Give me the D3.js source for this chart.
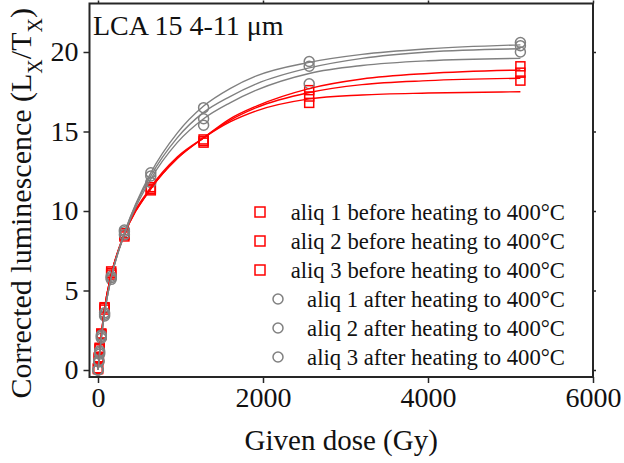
<!DOCTYPE html>
<html>
<head>
<meta charset="utf-8">
<script src="https://cdn.jsdelivr.net/npm/d3@7"></script>
<style>
  html, body { margin: 0; padding: 0; background: #fff; }
  svg { display: block; font-family: "Liberation Serif", "Times New Roman", serif; }
</style>
</head>
<body>
<svg id="chart" width="624" height="463"></svg>
<script>
// Regenerative doses (Gy)
const doses = [0, 10, 20, 40, 80, 160, 320, 640, 1280, 2560, 5120];

// Corrected luminescence Lx/Tx, before heating to 400 °C
const before1 = [0.1, 0.8, 1.4, 2.3, 3.9, 6.1, 8.5, 11.3, 14.4, 17.6, 19.1];
const before2 = [0.05, 0.7, 1.3, 2.2, 3.8, 6.0, 8.6, 11.4, 14.5, 17.2, 18.7];
const before3 = [0.1, 0.75, 1.35, 2.25, 3.95, 6.2, 8.4, 11.5, 14.3, 16.8, 18.2];

// Corrected luminescence Lx/Tx, after heating to 400 °C
const after1 = [0, 0.6, 1.2, 2.1, 3.6, 5.8, 8.8, 12.4, 16.5, 19.4, 20.6];
const after2 = [0, 0.55, 1.1, 2.2, 3.5, 5.9, 8.7, 12.2, 15.8, 19.1, 20.4];
const after3 = [0, 0.5, 1.0, 2.0, 3.4, 5.7, 8.5, 11.8, 15.4, 18.0, 20.0];

// Dose-response fits, sampled at these doses
const fitDoses = [0, 20, 40, 80, 160, 320, 640, 960, 1280, 1600, 1920, 2560, 3200, 4000, 5120];
const fitBefore1 = [0.1, 1.2, 2.2, 3.9, 6.0, 8.5, 11.4, 13.3, 14.6, 15.8, 16.6, 17.7, 18.3, 18.65, 18.87];
const fitBefore2 = [0.1, 1.2, 2.2, 3.9, 6.0, 8.5, 11.4, 13.3, 14.6, 15.7, 16.5, 17.45, 17.95, 18.2, 18.35];
const fitBefore3 = [0.1, 1.2, 2.2, 3.9, 6.0, 8.6, 11.5, 13.4, 14.6, 15.6, 16.3, 17.05, 17.3, 17.42, 17.5];
const fitAfter1 = [0, 1.1, 2.0, 3.6, 5.8, 8.6, 12.4, 14.9, 16.6, 17.7, 18.5, 19.35, 19.85, 20.2, 20.45];
const fitAfter2 = [0, 1.1, 2.0, 3.6, 5.8, 8.6, 12.2, 14.6, 16.2, 17.2, 18.0, 19.0, 19.6, 20.0, 20.2];
const fitAfter3 = [0, 1.1, 2.0, 3.6, 5.8, 8.5, 12.0, 14.3, 15.8, 16.8, 17.6, 18.65, 19.15, 19.45, 19.6];

const xTicks = [0, 2000, 4000, 6000];
const yTicks = [0, 5, 10, 15, 20];
const legendLabels = [
  "aliq 1 before heating to 400°C",
  "aliq 2 before heating to 400°C",
  "aliq 3 before heating to 400°C",
  "aliq 1 after heating to 400°C",
  "aliq 2 after heating to 400°C",
  "aliq 3 after heating to 400°C"
];

const RED = "#ff0000";
const GREY = "#808080";
const AXIS = "#262626";

const svg = d3.select("#chart");
const frame = { left: 89.5, right: 593, top: 3.5, bottom: 377 };

const x = d3.scaleLinear().domain([-103, 6000]).range([frame.left, frame.right]);
const y = d3.scaleLinear().domain([-0.44, 23.05]).range([frame.bottom, frame.top]);

const plot = svg.append("g");

const line = d3.line()
  .x(d => x(d[0]))
  .y(d => y(d[1]))
  .curve(d3.curveMonotoneX);

const zip = (xs, ys) => xs.map((v, i) => [v, ys[i]]);

// Data markers: open squares (before) and open circles (after)
const sq = 9;
[before1, before2, before3].forEach(series => {
  plot.append("g").selectAll("rect")
    .data(zip(doses, series))
    .join("rect")
    .attr("x", d => x(d[0]) - sq / 2)
    .attr("y", d => y(d[1]) - sq / 2)
    .attr("width", sq)
    .attr("height", sq)
    .attr("fill", "none")
    .attr("stroke", RED)
    .attr("stroke-width", 1.5);
});

[after1, after2, after3].forEach(series => {
  plot.append("g").selectAll("circle")
    .data(zip(doses, series))
    .join("circle")
    .attr("cx", d => x(d[0]))
    .attr("cy", d => y(d[1]))
    .attr("r", 5)
    .attr("fill", "none")
    .attr("stroke", GREY)
    .attr("stroke-width", 1.5);
});

// Fitted growth curves
[fitBefore1, fitBefore2, fitBefore3].forEach(series => {
  plot.append("path")
    .attr("d", line(zip(fitDoses, series)))
    .attr("fill", "none")
    .attr("stroke", RED)
    .attr("stroke-width", 1.4);
});
[fitAfter1, fitAfter2, fitAfter3].forEach(series => {
  plot.append("path")
    .attr("d", line(zip(fitDoses, series)))
    .attr("fill", "none")
    .attr("stroke", GREY)
    .attr("stroke-width", 1.4);
});

// Axes
const xAxis = d3.axisBottom(x).tickValues(xTicks).tickSize(6).tickPadding(4).tickFormat(d3.format("d"));
const yAxis = d3.axisLeft(y).tickValues(yTicks).tickSize(6).tickPadding(5);
const xTop = d3.axisTop(x).tickValues(xTicks).tickSize(3).tickFormat("");
const yRight = d3.axisRight(y).tickValues(yTicks).tickSize(3).tickFormat("");

function styleAxis(g) {
  g.select(".domain").remove();
  g.selectAll(".tick line").attr("stroke", AXIS).attr("stroke-width", 1.5);
  g.selectAll(".tick text")
    .attr("fill", "#111")
    .style("font-family", "'Liberation Serif', serif")
    .style("font-size", "28px");
}

svg.append("g").attr("transform", `translate(0,${frame.bottom})`).call(xAxis).call(styleAxis)
  .selectAll(".tick text").attr("dy", "0.71em");
svg.append("g").attr("transform", `translate(${frame.left},0)`).call(yAxis).call(styleAxis);
svg.append("g").attr("transform", `translate(0,${frame.top})`).call(xTop).call(styleAxis);
svg.append("g").attr("transform", `translate(${frame.right},0)`).call(yRight).call(styleAxis);

// Plot frame
svg.append("rect")
  .attr("x", frame.left).attr("y", frame.top)
  .attr("width", frame.right - frame.left).attr("height", frame.bottom - frame.top)
  .attr("fill", "none")
  .attr("stroke", AXIS)
  .attr("stroke-width", 2);

// Axis titles
svg.append("text")
  .attr("x", (frame.left + frame.right) / 2)
  .attr("y", 450)
  .attr("text-anchor", "middle")
  .attr("fill", "#111")
  .style("font-size", "29px")
  .text("Given dose (Gy)");

const yTitle = svg.append("text")
  .attr("transform", `translate(31,${(frame.top + frame.bottom) / 2 + 13}) rotate(-90)`)
  .attr("text-anchor", "middle")
  .attr("fill", "#111")
  .style("font-size", "30px");
yTitle.append("tspan").text("Corrected luminescence (L");
yTitle.append("tspan").attr("baseline-shift", "sub").style("font-size", "20px").text("X");
yTitle.append("tspan").text("/T");
yTitle.append("tspan").attr("baseline-shift", "sub").style("font-size", "20px").text("X");
yTitle.append("tspan").text(")");

// Sample label
svg.append("text")
  .attr("x", 93)
  .attr("y", 35)
  .attr("fill", "#111")
  .style("font-size", "28px")
  .text("LCA 15 4-11 μm");

// Legend
const legend = svg.append("g").style("font-size", "22.7px");
const rowY = d3.range(legendLabels.length).map(i => 212 + i * 29);
legendLabels.forEach((label, i) => {
  const cy = rowY[i];
  if (i < 3) {
    legend.append("rect")
      .attr("x", 260 - 5).attr("y", cy - 5)
      .attr("width", 10).attr("height", 10)
      .attr("fill", "none").attr("stroke", RED).attr("stroke-width", 1.5);
  } else {
    legend.append("circle")
      .attr("cx", 278).attr("cy", cy).attr("r", 5)
      .attr("fill", "none").attr("stroke", GREY).attr("stroke-width", 1.5);
  }
  legend.append("text")
    .attr("x", 565)
    .attr("y", cy + 8)
    .attr("text-anchor", "end")
    .attr("fill", "#111")
    .text(label);
});
</script>
</body>
</html>
